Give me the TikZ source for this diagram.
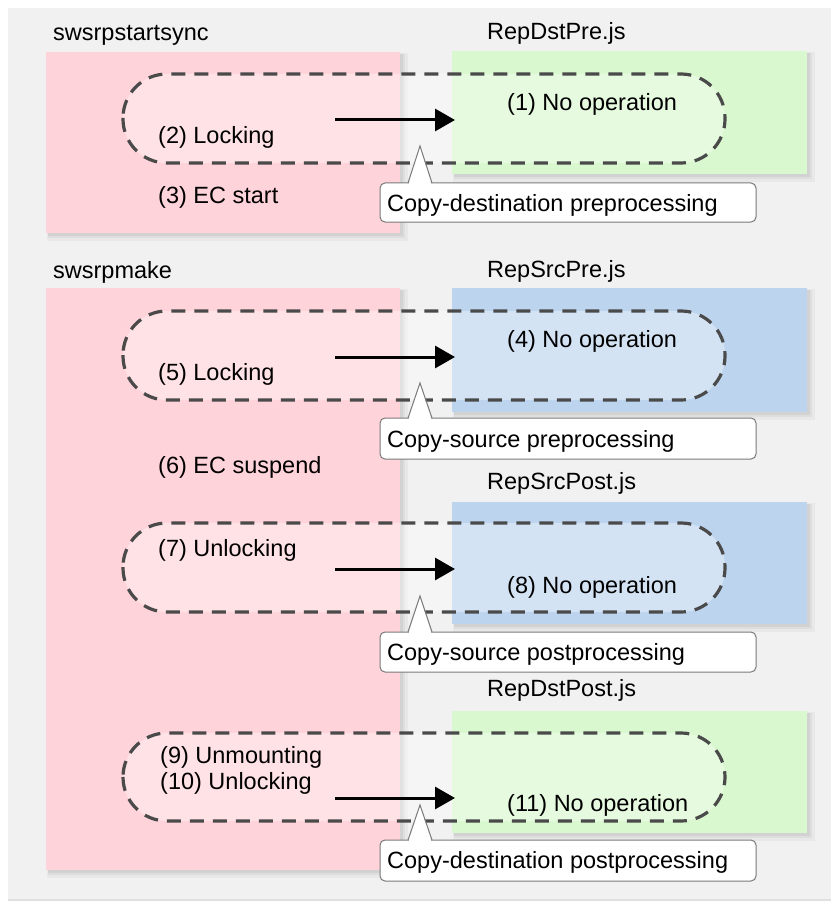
\documentclass[tikz,border=0pt]{standalone}
\usepackage{fontspec}
\setmainfont{Liberation Sans}
\usetikzlibrary{arrows.meta}
\definecolor{panelbg}{HTML}{F1F1F1}
\definecolor{pinkbox}{HTML}{FFD3DA}
\definecolor{greenbox}{HTML}{DAF8CF}
\definecolor{bluebox}{HTML}{BDD4EF}
\definecolor{dashcol}{HTML}{4A4A4A}
\definecolor{callborder}{HTML}{7A7A7A}
\newcommand\shbox[5]{%
  \fill[black,opacity=0.035] (#1+1,#2+1) rectangle (#3+8,#4+8);
  \fill[black,opacity=0.04] (#1+2,#2+2) rectangle (#3+5,#4+5);
  \fill[black,opacity=0.05] (#1+2,#2+2) rectangle (#3+3,#4+3);
  \fill[#5] (#1,#2) rectangle (#3,#4);}
\newcommand\mycallout[3]{%
  \draw[callbox] (380,#1) rectangle (756,#2);
  \fill[white] (408.7,#1+1.5) -- (420,#3) -- (431.3,#1+1.5) -- cycle;
  \draw[callborder,line width=1pt,line join=miter] (408,#1) -- (420,#3) -- (432,#1);}
\begin{document}
\begin{tikzpicture}[x=1pt,y=-1pt,
  lbl/.style={anchor=west,inner sep=0pt,font=\fontsize{23.5}{27}\selectfont,text=black},
  loopline/.style={draw=dashcol,line width=3.2pt,dash pattern=on 14pt off 9pt,rounded corners=44pt,fill=white,fill opacity=0.35},
  flow/.style={line width=3pt,-{Triangle[length=20pt,width=22pt]}},
  callbox/.style={fill=white,draw=callborder,line width=1pt,rounded corners=5pt}]
\useasboundingbox (0,0) rectangle (831,904);
% panel
\fill[white] (0,0) rectangle (831,904);
\fill[black!12] (8,9) rectangle (831,901);
\fill[panelbg] (8,8) rectangle (831,899);
% boxes
\shbox{46}{52}{400}{233}{pinkbox}
\shbox{452}{51}{807}{174}{greenbox}
\shbox{46}{288}{400}{870}{pinkbox}
\shbox{452}{288}{807}{412}{bluebox}
\shbox{452}{502}{807}{624}{bluebox}
\shbox{452}{711}{807}{833}{greenbox}
% dashed loops
\draw[loopline] (123,74) rectangle (725,163);
\draw[loopline] (123,311) rectangle (725,400);
\draw[loopline] (123,523) rectangle (725,612);
\draw[loopline] (123,733) rectangle (725,821);
% arrows
\coordinate (a1s) at (335,120); \coordinate (a1e) at (455,120);
\coordinate (a2s) at (335,357); \coordinate (a2e) at (455,357);
\coordinate (a3s) at (335,569); \coordinate (a3e) at (455,569);
\coordinate (a4s) at (335,798); \coordinate (a4e) at (455,798);
\draw[flow] (a1s) -- (a1e);
\draw[flow] (a2s) -- (a2e);
\draw[flow] (a3s) -- (a3e);
\draw[flow] (a4s) -- (a4e);
% callouts
\mycallout{183}{222}{146}
\mycallout{418}{459}{383}
\mycallout{632}{672}{596}
\mycallout{840}{881}{805}
% texts
\node[lbl] (h1) at (53,35) {swsrpstartsync};
\node[lbl] (s1) at (487,33) {RepDstPre.js};
\node[lbl] (t1) at (507,104) {(1) No operation};
\node[lbl] (t2) at (158,137) {(2) Locking};
\node[lbl] (t3) at (158,197) {(3) EC start};
\node[lbl] (c1) at (387,205) {Copy-destination preprocessing};
\node[lbl] (h2) at (53,272) {swsrpmake};
\node[lbl] (s2) at (487,271) {RepSrcPre.js};
\node[lbl] (t4) at (507,341) {(4) No operation};
\node[lbl] (t5) at (158,374) {(5) Locking};
\node[lbl] (c2) at (387,441) {Copy-source preprocessing};
\node[lbl] (t6) at (158,467) {(6) EC suspend};
\node[lbl] (s3) at (487,483) {RepSrcPost.js};
\node[lbl] (t7) at (158,550) {(7) Unlocking};
\node[lbl] (t8) at (507,587) {(8) No operation};
\node[lbl] (c3) at (387,654) {Copy-source postprocessing};
\node[lbl] (s4) at (487,690) {RepDstPost.js};
\node[lbl] (t9) at (160,757) {(9) Unmounting};
\node[lbl] (t10) at (160,783) {(10) Unlocking};
\node[lbl] (t11) at (507,805) {(11) No operation};
\node[lbl] (c4) at (387,862) {Copy-destination postprocessing};
\end{tikzpicture}
\end{document}
